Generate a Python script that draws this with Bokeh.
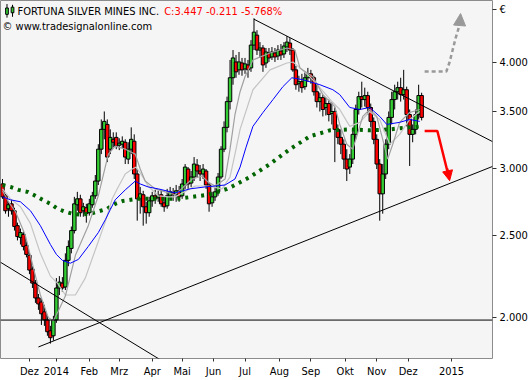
from bokeh.plotting import figure
from bokeh.models import Range1d, FixedTicker, Label, Arrow, NormalHead
from bokeh.embed import file_html
from bokeh.resources import INLINE

FONT = "DejaVu Sans Condensed"

# ---- OHLC, one candle per two trading days (Nov 2013 - Dec 2014), EUR ----
opens = [
    2.877, 2.786, 2.690, 2.726, 2.675, 2.569, 2.488, 2.508, 2.434, 2.370, 2.283, 2.198, 2.111, 2.088, 2.033, 1.989, 1.931, 1.905, 1.989,
    2.169, 2.198, 2.175, 2.338, 2.415, 2.535, 2.719, 2.763, 2.675, 2.697, 2.661, 2.719, 2.786, 2.900, 3.162, 3.337, 3.382, 3.162, 3.248,
    3.265, 3.196, 3.205, 3.222, 3.078, 3.162, 3.231, 2.956, 2.763, 2.794, 2.704, 2.661, 2.748, 2.786, 2.771, 2.794, 2.733, 2.711, 2.786, 2.808,
    2.794, 2.824, 2.786, 2.869, 2.996, 2.884, 2.932, 3.029, 2.980, 2.956, 2.980, 2.869, 2.733, 2.778, 2.816, 2.932, 3.162, 3.355, 3.598, 3.839,
    4.007, 3.922, 3.996, 3.932, 3.975, 3.943, 4.195, 4.310, 4.139, 4.162, 3.996, 4.106, 4.062, 4.106, 4.073, 4.128, 4.095, 4.173, 4.218, 4.139,
    3.922, 3.777, 3.798, 3.747, 3.839, 3.880, 3.839, 3.696, 3.598, 3.637, 3.541, 3.579, 3.484,
    3.503, 3.337, 3.265, 3.205, 3.078, 3.012, 3.078, 3.292, 3.522, 3.647, 3.618, 3.657, 3.541, 3.410, 3.248, 3.037, 2.801, 2.956, 3.205, 3.447,
    3.618, 3.696, 3.737, 3.667, 3.716, 3.474, 3.292, 3.337, 3.474, 3.658,
]
highs = [
    2.916, 2.801, 2.741, 2.756, 2.697, 2.590, 2.549, 2.528, 2.461, 2.389, 2.301, 2.216, 2.134, 2.111, 2.072, 2.011, 1.957, 2.011, 2.228,
    2.240, 2.234, 2.383, 2.468, 2.563, 2.778, 2.816, 2.794, 2.733, 2.726, 2.763, 2.816, 2.948, 3.205, 3.428, 3.503, 3.428, 3.337, 3.310,
    3.310, 3.257, 3.274, 3.248, 3.222, 3.355, 3.292, 2.996, 2.854, 2.824, 2.741, 2.778, 2.816, 2.831, 2.824, 2.824, 2.778, 2.839, 2.854, 2.846,
    2.869, 2.861, 2.916, 3.037, 3.012, 2.980, 3.095, 3.078, 3.029, 3.037, 2.996, 2.884, 2.816, 2.854, 2.964, 3.188, 3.410, 3.647, 4.029, 4.139,
    4.084, 4.117, 4.051, 4.051, 4.029, 4.252, 4.512, 4.368, 4.229, 4.195, 4.162, 4.162, 4.173, 4.162, 4.195, 4.207, 4.229, 4.298, 4.275, 4.162,
    3.964, 3.860, 3.880, 3.901, 3.943, 3.922, 3.860, 3.777, 3.686, 3.667, 3.637, 3.618, 3.589,
    3.541, 3.382, 3.337, 3.248, 3.162, 3.120, 3.337, 3.569, 3.696, 3.798, 3.737, 3.696, 3.579, 3.447, 3.292, 3.078, 3.037, 3.248, 3.503, 3.696,
    3.767, 3.798, 3.839, 3.922, 3.747, 3.522, 3.382, 3.522, 3.767, 3.686,
]
lows = [
    2.763, 2.654, 2.632, 2.647, 2.535, 2.468, 2.441, 2.402, 2.357, 2.252, 2.169, 2.083, 2.044, 1.962, 1.957, 1.905, 1.865, 1.880, 1.973,
    2.128, 2.146, 2.157, 2.301, 2.383, 2.515, 2.675, 2.632, 2.632, 2.590, 2.640, 2.697, 2.763, 2.869, 3.120, 3.248, 3.053, 3.120, 3.179,
    3.162, 3.154, 3.171, 3.037, 3.037, 3.120, 2.916, 2.604, 2.654, 2.569, 2.583, 2.632, 2.704, 2.726, 2.741, 2.704, 2.668, 2.690, 2.763, 2.748,
    2.741, 2.741, 2.763, 2.839, 2.839, 2.854, 2.900, 2.932, 2.900, 2.916, 2.839, 2.668, 2.704, 2.748, 2.786, 2.916, 3.137, 3.310, 3.522, 3.767,
    3.839, 3.870, 3.860, 3.880, 3.839, 3.901, 4.139, 4.084, 4.051, 3.901, 3.943, 4.007, 4.029, 4.007, 4.029, 4.029, 4.051, 4.117, 4.084, 3.901,
    3.716, 3.696, 3.686, 3.716, 3.798, 3.777, 3.657, 3.541, 3.503, 3.456, 3.465, 3.410, 3.382,
    3.053, 3.205, 3.120, 2.996, 2.900, 2.956, 3.037, 3.248, 3.474, 3.541, 3.550, 3.474, 3.355, 3.205, 2.996, 2.604, 2.654, 2.916, 3.162, 3.382,
    3.522, 3.618, 3.598, 3.618, 3.364, 3.021, 3.222, 3.292, 3.428, 3.419,
]
closes = [
    2.778, 2.675, 2.719, 2.675, 2.563, 2.494, 2.521, 2.428, 2.376, 2.277, 2.198, 2.111, 2.077, 2.022, 1.989, 1.926, 1.895, 1.989, 2.169,
    2.204, 2.169, 2.338, 2.428, 2.535, 2.726, 2.763, 2.661, 2.704, 2.654, 2.726, 2.786, 2.900, 3.162, 3.337, 3.410, 3.095, 3.265, 3.222,
    3.188, 3.214, 3.231, 3.095, 3.162, 3.248, 2.956, 2.763, 2.801, 2.704, 2.661, 2.748, 2.786, 2.763, 2.786, 2.726, 2.704, 2.786, 2.816, 2.794,
    2.824, 2.778, 2.877, 3.012, 2.877, 2.932, 3.037, 2.980, 2.956, 2.996, 2.869, 2.726, 2.778, 2.816, 2.932, 3.162, 3.355, 3.598, 3.839, 4.051,
    3.901, 4.007, 3.922, 3.986, 3.922, 4.195, 4.345, 4.139, 4.162, 3.975, 4.117, 4.051, 4.117, 4.062, 4.139, 4.084, 4.184, 4.229, 4.139, 3.922,
    3.767, 3.798, 3.737, 3.839, 3.880, 3.839, 3.696, 3.598, 3.637, 3.522, 3.579, 3.474, 3.503,
    3.337, 3.265, 3.205, 3.078, 2.996, 3.078, 3.292, 3.522, 3.647, 3.618, 3.657, 3.541, 3.410, 3.248, 3.037, 2.801, 2.956, 3.205, 3.447, 3.618,
    3.696, 3.737, 3.667, 3.716, 3.474, 3.292, 3.337, 3.474, 3.658, 3.447,
]
# trading-day index of each candle
day = list(range(0, 2 * len(closes), 2))

# ---- moving averages (day index, price) ----
blue_day = [0, 5.3, 12, 18.7, 25.3, 32, 36, 40, 45.3, 50.7, 57.3, 64, 68.7, 72, 75.3, 82, 88.7, 92, 97.3, 104, 115.3,
            125.3, 135.3, 142, 148.7, 155.3, 158.7, 162.7, 167.3, 174, 180.7, 187.3, 193.3, 200.7, 212, 220.7, 225.3,
            232, 238.7, 245.3, 252, 256.7, 265.3, 272, 278.7]
blue_val = [2.778, 2.756, 2.741, 2.675, 2.569, 2.441, 2.376, 2.338, 2.320, 2.344, 2.428, 2.521, 2.611, 2.683, 2.756, 2.831,
            2.900, 2.877, 2.854, 2.839, 2.808, 2.839, 2.854, 2.861, 2.869, 2.916, 3.012, 3.179, 3.364, 3.493, 3.618, 3.747,
            3.839, 3.818, 3.767, 3.716, 3.667, 3.541, 3.522, 3.541, 3.456, 3.382, 3.401, 3.428, 3.410]

fast_day = [0, 4, 8.7, 15.3, 20.7, 25.3, 30.7, 34, 37.3, 42, 48.7, 57.3, 64, 70.7, 75.3, 82, 88.7, 92, 95.3, 102, 108.7,
            115.3, 126.7, 133.3, 137.3, 142, 148.7, 152, 155.3, 158.7, 162, 167.3, 178.7, 190, 195.3, 198.7, 207.3, 214,
            222, 225.3, 230, 234, 240.7, 245.3, 250, 254, 257.3, 260.7, 265.3, 272, 278.7]
fast_val = [2.824, 2.741, 2.668, 2.501, 2.289, 2.128, 2.000, 1.984, 2.038, 2.122, 2.370, 2.569, 2.786, 3.120, 3.188, 3.162,
            3.120, 2.996, 2.900, 2.839, 2.816, 2.794, 2.916, 2.940, 2.892, 2.861, 2.916, 3.162, 3.474, 3.696, 3.850, 4.029,
            4.106, 4.162, 4.139, 3.943, 3.850, 3.667, 3.550, 3.382, 3.205, 3.162, 3.456, 3.522, 3.456, 3.248, 3.078, 3.205,
            3.401, 3.493, 3.522]

slow_day = [0, 5.3, 12, 18.7, 25.3, 32, 36.7, 42, 48.7, 55.3, 60, 64, 68.7, 73.3, 77.3, 82, 86.7, 89.3, 93.3, 97.3, 104,
            110.7, 115.3, 128.7, 137.3, 146.7, 152, 155.3, 158.7, 167.3, 178.7, 190, 194, 198.7, 205.3, 212, 220.7, 225.3,
            232, 238.7, 245.3, 252, 258.7, 265.3, 272, 278.7]
slow_val = [2.839, 2.763, 2.704, 2.583, 2.383, 2.240, 2.198, 2.128, 2.128, 2.228, 2.351, 2.461, 2.597, 2.763, 2.854, 2.956,
            2.996, 3.012, 2.940, 2.861, 2.786, 2.778, 2.778, 2.861, 2.861, 2.839, 2.932, 3.120, 3.337, 3.716, 3.922, 3.996,
            4.007, 3.943, 3.850, 3.737, 3.589, 3.522, 3.364, 3.401, 3.503, 3.428, 3.205, 3.292, 3.428, 3.503]

green_day = [0, 5.3, 10.7, 16.7, 20.7, 26.7, 32, 36.7, 42, 46.7, 52, 58.7, 63.3, 70, 75.3, 80.7, 90, 96.7, 105.3, 116.7,
             126.7, 137.3, 144, 150, 154, 165.3, 178.7, 192, 205.3, 218.7, 232, 245.3, 258.7, 272, 280]
green_val = [2.869, 2.854, 2.831, 2.816, 2.794, 2.756, 2.726, 2.690, 2.668, 2.654, 2.647, 2.654, 2.668, 2.690, 2.726, 2.748,
             2.763, 2.763, 2.763, 2.763, 2.778, 2.794, 2.816, 2.839, 2.861, 2.932, 3.037, 3.162, 3.274, 3.328, 3.337, 3.328,
             3.337, 3.355, 3.364]

# ---- drawn trend lines / projections (day index, price) ----
res_day, res_val = [168.0, 327.3], [4.500, 3.228]
sup_day, sup_val = [24.0, 327.3], [1.848, 3.017]
fall_day, fall_val = [-1.333, 112.0], [2.326, 1.756]
hline_day, hline_val = [-1.333, 327.3], [1.988, 1.988]
red_day, red_val = [282.0, 290.5, 298.0], [3.322, 3.322, 2.94]
red_head_day, red_head_val = [297.0, 298.7], [3.00, 2.903]
gray_day = [282.0, 296.5, 298.7, 300.7, 302.7, 304.7, 305.6]
gray_val = [3.905, 3.905, 4.007, 4.139, 4.275, 4.392, 4.480]
gray_head_day, gray_head_val = [305.6, 306.0], [4.48, 4.57]

# small legend icon (two mini candles) in front of the title
icon_day, icon_low, icon_high, icon_bot, icon_top = [3.0, 6.7], [4.52, 4.53], [4.69, 4.68], [4.56, 4.58], [4.64, 4.65]

# ---- axes ----
tick_days = [18, 36, 58, 78, 100, 120, 141, 162, 185, 206, 229, 250, 271, 300]
tick_labels = ["Dez", "2014", "Feb", "Mrz", "Apr", "Mai", "Jun", "Jul", "Aug", "Sep", "Okt", "Nov", "Dez", "2015"]
price_ticks = [2.0, 2.5, 3.0, 3.5, 4.0, 4.62]
price_labels = ["2.000", "2.500", "3.000", "3.500", "4.000", "\u20ac"]

p = figure(width=530, height=380, y_axis_type="log", y_axis_location="right",
           x_range=Range1d(-1.333, 327.333), y_range=Range1d(1.791, 4.735),
           output_backend="svg", toolbar_location=None,
           min_border_left=0, min_border_top=0, min_border_right=37, min_border_bottom=19,
           background_fill_color="#f5f5f5", border_fill_color="white",
           outline_line_color="#8c8c8c")
p.grid.visible = False

xa = p.xaxis[0]
xa.ticker = FixedTicker(ticks=tick_days, minor_ticks=[])
xa.major_label_overrides = dict(zip(tick_days, tick_labels))
xa.major_label_text_align = "left"
xa.axis_line_color = None
xa.major_tick_in = 0
xa.major_tick_out = 3
xa.major_tick_line_color = "#303030"
xa.major_label_standoff = 3
xa.major_label_text_font = FONT
xa.major_label_text_font_size = "11px"
xa.major_label_text_color = "black"

ya = p.yaxis[0]
ya.ticker = FixedTicker(ticks=price_ticks, minor_ticks=[])
ya.major_label_overrides = dict(zip(price_ticks, price_labels))
ya.axis_line_color = None
ya.major_tick_in = 0
ya.major_tick_out = 4
ya.major_tick_line_color = "#303030"
ya.minor_tick_line_color = None
ya.major_label_standoff = 3
ya.major_label_text_font = FONT
ya.major_label_text_font_size = "11px"
ya.major_label_text_color = "black"

# ---- candles ----
colors = ["#33cc33" if c >= o else "#ff0000" for o, c in zip(opens, closes)]
tops = [max(o, c) for o, c in zip(opens, closes)]
bottoms = [min(o, c) for o, c in zip(opens, closes)]
p.segment(day, lows, day, highs, line_color="black", line_width=1)
p.vbar(x=day, width=2.3, top=tops, bottom=bottoms, fill_color=colors, line_color="black", line_width=1)

# ---- averages ----
p.line(green_day, green_val, line_color="#006400", line_width=4, line_dash="3 5")
p.line(slow_day, slow_val, line_color="#c4c4c4", line_width=1.2)
p.line(fast_day, fast_val, line_color="#a0a0a0", line_width=1.2)
p.line(blue_day, blue_val, line_color="#0000ff", line_width=1)

# ---- trend lines ----
for xs, ys in [(res_day, res_val), (sup_day, sup_val), (fall_day, fall_val), (hline_day, hline_val)]:
    p.line(xs, ys, line_color="black", line_width=1)

p.line(red_day, red_val, line_color="#ff0000", line_width=2.5)
p.add_layout(Arrow(end=NormalHead(size=10, fill_color="#ff0000", line_color="#ff0000"),
                   x_start=red_head_day[0], y_start=red_head_val[0], x_end=red_head_day[1], y_end=red_head_val[1],
                   line_color="#ff0000", line_width=2.5))
p.line(gray_day, gray_val, line_color="#999999", line_width=2.5, line_dash="4 3")
p.add_layout(Arrow(end=NormalHead(size=12, fill_color="#999999", line_color="#999999"),
                   x_start=gray_head_day[0], y_start=gray_head_val[0], x_end=gray_head_day[1], y_end=gray_head_val[1],
                   line_color="#999999", line_width=2.5))

# ---- title texts ----
p.segment(icon_day, icon_low, icon_day, icon_high, line_color="black", line_width=1)
p.vbar(x=icon_day, width=1.8, top=icon_top, bottom=icon_bot, fill_color="#33cc33", line_color="black", line_width=1)
p.add_layout(Label(x=10, y=4.598, text="FORTUNA SILVER MINES INC.", text_font=FONT, text_font_size="11px",
                   text_baseline="middle", text_color="black"))
p.add_layout(Label(x=108, y=4.598, text="C:3.447 -0.211 -5.768%", text_font=FONT, text_font_size="11px",
                   text_baseline="middle", text_color="#ff0000"))
p.add_layout(Label(x=0, y=4.416, text="\u00a9 www.tradesignalonline.com", text_font=FONT, text_font_size="11px",
                   text_baseline="middle", text_color="black"))

open("out.html", "w").write(file_html(p, INLINE))
